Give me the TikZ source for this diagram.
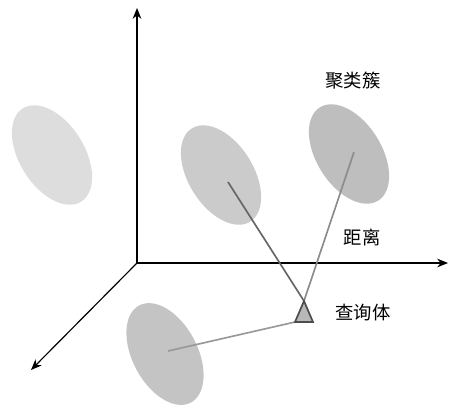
\documentclass[tikz,border=0pt]{standalone}
\usepackage{fontspec}
\setmainfont{Noto Sans CJK SC}
\usetikzlibrary{shapes.geometric,arrows.meta}

\definecolor{clusterA}{HTML}{DDDDDD}
\definecolor{clusterB}{HTML}{CBCBCB}
\definecolor{clusterC}{HTML}{BEBEBE}
\definecolor{clusterD}{HTML}{C4C4C4}

\tikzset{
    cluster/.style={ellipse,inner sep=0pt,minimum width=66pt,minimum height=39pt,draw=none},
    dist/.style={line width=1pt,black!55},
    axis/.style={->,line width=0.7pt},
    lbl/.style={font=\fontsize{11}{13}\selectfont}
}

\begin{document}
\begin{tikzpicture}[>={Stealth[length=6.5pt,width=5.2pt]},x=0.6pt,y=-0.6pt]
    \useasboundingbox (0,0) rectangle (455,408);

    % axes
    \coordinate (o) at (137,263);
    \draw[axis] (o) -- (137,8);
    \draw[axis] (o) -- (448,263);
    \draw[axis] (o) -- (31,370);

    % clusters
    \node[cluster,fill=clusterA,rotate=-58] (c1) at (52,155) {};
    \node[cluster,fill=clusterB,rotate=-58] (c2) at (221,175) {};
    \node[cluster,fill=clusterC,rotate=-58] (c3) at (349,154) {};
    \node[cluster,fill=clusterD,rotate=-62] (c4) at (165,354) {};

    % query
    \coordinate (qtop) at (304,301);
    \coordinate (qleft) at (295,322);
    \coordinate (qright) at (313,322);

    \draw[dist,black!60] (qtop) -- ([shift={(7,7)}]c2.center);
    \draw[dist,black!45] (qtop) -- ([shift={(5,-2)}]c3.center);
    \draw[dist,black!40] (qleft) -- ([shift={(3,-3)}]c4.center);

    \filldraw[fill=black!28,draw=black!70,line width=1pt,line join=miter]
        (qtop) -- (qleft) -- (qright) -- cycle;

    \node[lbl] (lcl) at (353,81) {聚类簇};
    \node[lbl] (ldist) at (362,237) {距离};
    \node[lbl] (lq) at (363,313) {查询体};
\end{tikzpicture}
\end{document}
